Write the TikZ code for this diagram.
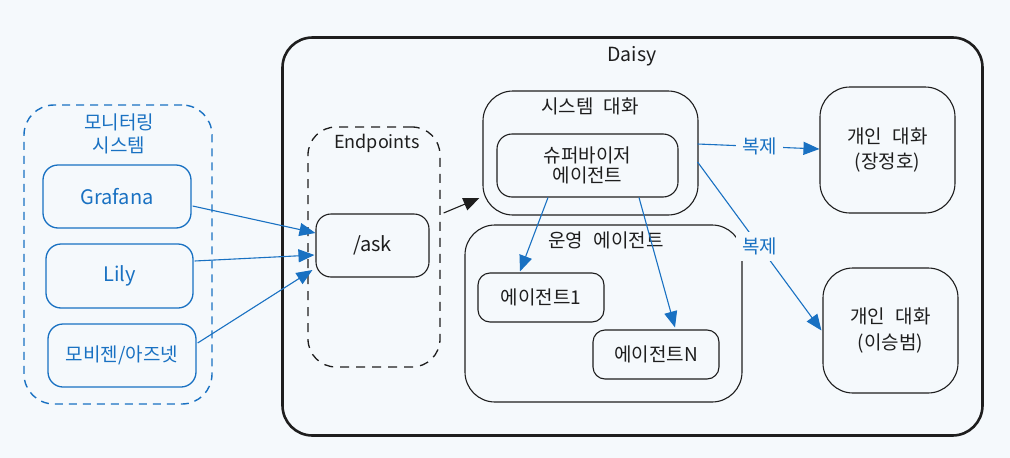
\documentclass[tikz,border=0pt]{standalone}
\usepackage{fontspec}
\setmainfont{Noto Sans CJK KR}
\usetikzlibrary{arrows.meta,calc}
\definecolor{bg}{RGB}{245,249,252}
\definecolor{xblue}{RGB}{25,113,194}
\definecolor{ink}{RGB}{30,30,30}
\newcommand{\wsp}{\hspace{0.55em}}
\begin{document}
\begin{tikzpicture}[x=1pt,y=-1pt,
  base/.style={rectangle, inner sep=0pt, align=center, font=\fontsize{19}{22}\selectfont},
  blackbox/.style={base, draw=ink, line width=1.1pt, text=ink},
  bluebox/.style={base, draw=xblue, line width=1.3pt, text=xblue, rounded corners=15pt},
  latin/.style={font=\fontsize{20}{22}\selectfont},
  grouplabel/.style={inner sep=0pt, align=center, font=\fontsize{19}{23}\selectfont},
  bluearrow/.style={draw=xblue, line width=1.1pt, -{Triangle[length=16pt,width=13pt]}},
  blackarrow/.style={draw=ink, line width=1.1pt, -{Triangle[length=16pt,width=13pt]}},
  edgelabel/.style={fill=bg, text=xblue, inner xsep=6pt, inner ysep=6pt, font=\fontsize{19}{20}\selectfont}
]
\fill[bg] (0,0) rectangle (1010,458);
\useasboundingbox (0,0) rectangle (1010,458);

% Daisy container
\node[base, draw=ink, line width=2.6pt, rounded corners=30pt, minimum width=700pt, minimum height=398pt] (daisy) at (632.5,236.5) {};
\node[grouplabel, text=ink, font=\fontsize{19.5}{23}\selectfont] (daisylbl) at (632,56) {Daisy};

% Monitoring group
\node[base, draw=xblue, line width=1.4pt, dashed, dash pattern=on 8pt off 6pt, rounded corners=30pt, minimum width=188pt, minimum height=299pt] (mon) at (118,254.5) {};
\node[grouplabel, text=xblue] (monlbl) at (119,133.5) {모니터링\\시스템};
\node[bluebox, latin, minimum width=148pt, minimum height=63pt] (gra) at (117,196.5) {Grafana};
\node[bluebox, latin, minimum width=147pt, minimum height=64pt] (lily) at (119.5,276) {Lily};
\node[bluebox, minimum width=148pt, minimum height=63pt] (mob) at (122,355.5) {모비젠/아즈넷};

% Endpoints group
\node[base, draw=ink, line width=1.3pt, dashed, dash pattern=on 9pt off 7pt, rounded corners=28pt, minimum width=132pt, minimum height=240pt] (ep) at (374,247) {};
\node[grouplabel, text=ink, font=\fontsize{18}{23}\selectfont] (eplbl) at (377,143) {Endpoints};
\node[blackbox, latin, rounded corners=15pt, minimum width=113pt, minimum height=63pt] (ask) at (372.5,245.5) {/ask};

% System conversation
\node[blackbox, rounded corners=30pt, minimum width=215pt, minimum height=124pt] (sys) at (590.5,153) {};
\node[grouplabel, text=ink] (syslbl) at (590,106) {시스템\wsp 대화};
\node[blackbox, rounded corners=15pt, minimum width=181pt, minimum height=63pt, font=\fontsize{19}{20.5}\selectfont] (sup) at (587.5,165.5) {슈퍼바이저\\에이전트};

% Operation agents
\node[blackbox, rounded corners=30pt, minimum width=277pt, minimum height=177pt] (ops) at (603.5,313.5) {};
\node[grouplabel, text=ink] (opslbl) at (606,240) {운영\wsp 에이전트};
\node[blackbox, rounded corners=12pt, minimum width=126pt, minimum height=49pt] (a1) at (541,297.5) {에이전트1};
\node[blackbox, rounded corners=12pt, minimum width=126pt, minimum height=49pt] (an) at (656,354.5) {에이전트N};

% Personal conversations
\node[blackbox, rounded corners=30pt, minimum width=135pt, minimum height=126pt, font=\fontsize{19}{25.5}\selectfont] (p1) at (887.5,150) {개인\wsp 대화\\(장정호)};
\node[blackbox, rounded corners=30pt, minimum width=135pt, minimum height=125pt, font=\fontsize{19}{25.5}\selectfont] (p2) at (890.5,330.5) {개인\wsp 대화\\(이승범)};

% Arrows into /ask
\draw[bluearrow] ($(gra.east)+(1,9.5)$) -- ($(ask.west)+(0,-12.5)$);
\draw[bluearrow] ($(lily.east)+(1,-15)$) -- ($(ask.west)+(-1,9.5)$);
\draw[bluearrow] ($(mob.east)+(1,-12.5)$) -- ($(ask.west)+(-3,24.5)$);

% Endpoints -> system conversation
\draw[blackarrow] ($(ep.east)+(3,-34)$) -- ($(sys.west)+(-3,45)$);

% Supervisor -> agents
\draw[bluearrow] ($(sup.south)+(-39.5,0)$) -- ($(a1.north)+(-21,-1)$);
\draw[bluearrow] ($(sup.south)+(51.5,0)$) -- ($(an.north)+(19,-2)$);

% Copy arrows
\draw[bluearrow] ($(sys.east)+(-1,-9)$) -- node[edgelabel, pos=0.51] (cp1) {복제} ($(p1.west)+(0,-1)$);
\draw[bluearrow] ($(sys.east)+(-1,9)$) -- node[edgelabel, pos=0.5] (cp2) {복제} ($(p2.west)+(-1,0)$);
\end{tikzpicture}
\end{document}
